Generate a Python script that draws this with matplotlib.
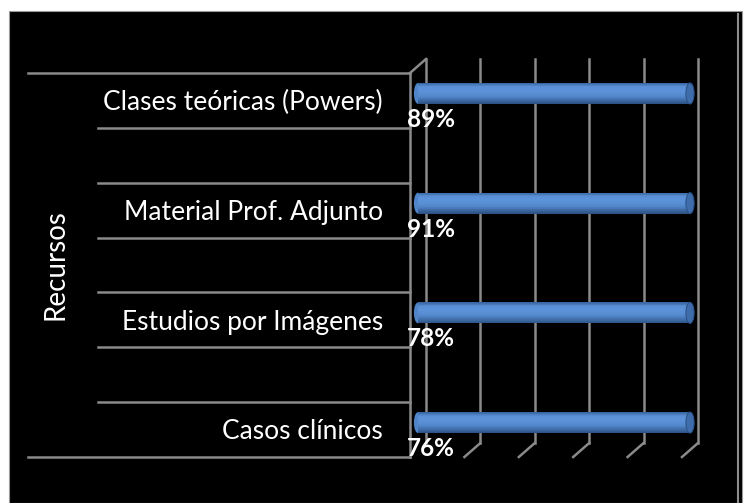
import matplotlib
matplotlib.use("Agg")
import matplotlib.pyplot as plt
import matplotlib.transforms as mtransforms
from matplotlib.patches import Rectangle, Ellipse
from matplotlib.lines import Line2D
from matplotlib.colors import LinearSegmentedColormap
import numpy as np

# data (bottom to top)
categories = ["Casos clínicos", "Estudios por Imágenes",
              "Material Prof. Adjunto", "Clases teóricas (Powers)"]
bar_values = [100, 100, 100, 100]
pct_labels = ["76%", "78%", "91%", "89%"]
axis_title = "Recursos"
x_ticks = [0, 20, 40, 60, 80, 100]

W, H = 750, 503
fig = plt.figure(figsize=(W / 100, H / 100), dpi=100)
fig.patch.set_facecolor("white")

# black panel (behind the axes)
fig.patches.append(Rectangle((9 / W, 0), 733 / W, (H - 11) / H,
                             transform=fig.transFigure, facecolor="black",
                             edgecolor="#9a9a9a", linewidth=0.8, zorder=-5))
fig.lines.append(Line2D([738 / W, 738 / W], [0, (H - 14) / H],
                        transform=fig.transFigure, color="#8c8c8c", lw=1.5,
                        zorder=-4))

# front plane of the plot
ax = fig.add_axes([410 / W, (H - 457) / H, 272 / W, 384 / H])
ax.set_facecolor("none")
ax.axis("off")
n_slots = 2 * len(categories) - 1
ax.set_xlim(0, 100)
ax.set_ylim(-0.5, n_slots - 0.5)

grid_c = "#8a8a8a"
back = mtransforms.offset_copy(ax.transData, fig, x=16, y=14, units="dots")
mid = mtransforms.offset_copy(ax.transData, fig, x=8, y=7, units="dots")

# back wall gridlines
for xv in x_ticks:
    ax.plot([xv, xv], [-0.5, n_slots - 0.5], color=grid_c, lw=1.8,
            transform=back, clip_on=False)
# floor diagonals
for xv in x_ticks[1:]:
    p0 = back.transform((xv, -0.5))
    p1 = ax.transData.transform((xv, -0.5))
    ax.add_line(Line2D([p0[0], p1[0]], [p0[1], p1[1]], color=grid_c, lw=1.8,
                       transform=None, clip_on=False))
# left wall: front edge and top diagonal
ax.plot([0, 0], [-0.5, n_slots - 0.5], color=grid_c, lw=1.8, clip_on=False)
p0 = back.transform((0, n_slots - 0.5))
p1 = ax.transData.transform((0, n_slots - 0.5))
ax.add_line(Line2D([p0[0], p1[0]], [p0[1], p1[1]], color=grid_c, lw=1.8,
                   transform=None, clip_on=False))

# category separator lines
blend = mtransforms.blended_transform_factory(fig.transFigure, ax.transData)
for b in np.arange(-0.5, n_slots, 1.0):
    x0 = 28 / W if b in (-0.5, n_slots - 0.5) else 98 / W
    ax.add_line(Line2D([x0, 410 / W], [b, b], color=grid_c, lw=1.8,
                       transform=blend, clip_on=False))

# category labels
for i, name in enumerate(categories):
    ax.text(383 / W, 2 * i - 0.04, name, transform=blend, ha="right",
            va="center", color="white", fontsize=19, family="Lato")
ax.text(55 / W, (n_slots - 1) / 2, axis_title, transform=blend, rotation=90,
        ha="center", va="center", color="white", fontsize=20, family="Lato")

# cylinder bars
cmap = LinearSegmentedColormap.from_list(
    "cyl", ["#3a68a6", "#5a8fd4", "#5c93da", "#5a8fd4", "#5185c9",
            "#3f6ca8", "#2e5487"])
bh = 0.38
n_strip = 30
for i, v in enumerate(bar_values):
    yc = 2 * i
    ax.add_patch(Ellipse((0, yc), 3.0, bh, facecolor="#5185c9",
                         edgecolor="none", transform=mid, zorder=3,
                         clip_on=False))
    edges = np.linspace(yc + bh / 2, yc - bh / 2, n_strip + 1)
    cols = cmap(np.linspace(0, 1, n_strip))
    ax.barh((edges[:-1] + edges[1:]) / 2, [v] * n_strip, height=bh / n_strip,
            left=0, color=cols, edgecolor="none", transform=mid, zorder=4,
            clip_on=False)
    ax.add_patch(Ellipse((v, yc), 3.0, bh, facecolor="#3f6dab",
                         edgecolor="#2c5489", lw=0.8, transform=mid, zorder=5,
                         clip_on=False))
    ax.annotate(pct_labels[i], xy=(0, yc), xytext=(-3, -19),
                textcoords="offset pixels", ha="left", va="center",
                color="white", fontsize=17.5, fontweight="bold", family="Lato",
                zorder=6, annotation_clip=False)

fig.savefig("out.png", dpi=100, facecolor=fig.get_facecolor())
